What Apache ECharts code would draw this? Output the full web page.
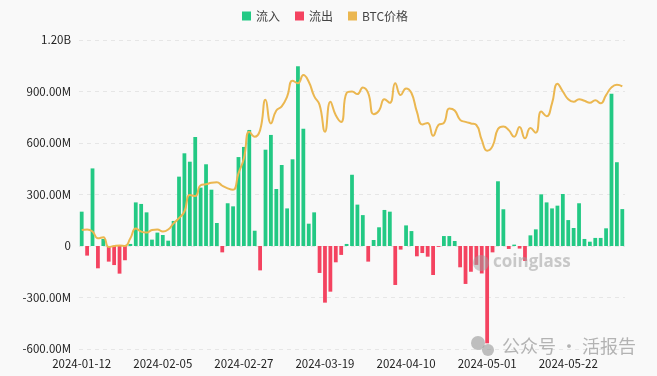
<!DOCTYPE html>
<html>
<head>
<meta charset="utf-8">
<script src="https://cdn.jsdelivr.net/npm/echarts@6/dist/echarts.min.js"></script>
<style>
  html, body { margin: 0; padding: 0; background: #f9f9f9; }
  #chart { width: 657px; height: 376px; }
</style>
</head>
<body>
<div id="chart"></div>
<script>
// 交易日
const dates = [
  "2024-01-12", "2024-01-16", "2024-01-17", "2024-01-18", "2024-01-19", "2024-01-22", "2024-01-23", "2024-01-24",
  "2024-01-25", "2024-01-26", "2024-01-29", "2024-01-30", "2024-01-31", "2024-02-01", "2024-02-02", "2024-02-05",
  "2024-02-06", "2024-02-07", "2024-02-08", "2024-02-09", "2024-02-12", "2024-02-13", "2024-02-14", "2024-02-15",
  "2024-02-16", "2024-02-20", "2024-02-21", "2024-02-22", "2024-02-23", "2024-02-26", "2024-02-27", "2024-02-28",
  "2024-02-29", "2024-03-01", "2024-03-04", "2024-03-05", "2024-03-06", "2024-03-07", "2024-03-08", "2024-03-11",
  "2024-03-12", "2024-03-13", "2024-03-14", "2024-03-15", "2024-03-18", "2024-03-19", "2024-03-20", "2024-03-21",
  "2024-03-22", "2024-03-25", "2024-03-26", "2024-03-27", "2024-03-28", "2024-04-01", "2024-04-02", "2024-04-03",
  "2024-04-04", "2024-04-05", "2024-04-08", "2024-04-09", "2024-04-10", "2024-04-11", "2024-04-12", "2024-04-15",
  "2024-04-16", "2024-04-17", "2024-04-18", "2024-04-19", "2024-04-22", "2024-04-23", "2024-04-24", "2024-04-25",
  "2024-04-26", "2024-04-29", "2024-04-30", "2024-05-01", "2024-05-02", "2024-05-03", "2024-05-06", "2024-05-07",
  "2024-05-08", "2024-05-09", "2024-05-10", "2024-05-13", "2024-05-14", "2024-05-15", "2024-05-16", "2024-05-17",
  "2024-05-20", "2024-05-21", "2024-05-22", "2024-05-23", "2024-05-24", "2024-05-28", "2024-05-29", "2024-05-30",
  "2024-05-31", "2024-06-03", "2024-06-04", "2024-06-05", "2024-06-06"
];

// 每日净流量 (百万美元)
const netFlow = [
  200, -56, 452, -130, 41, -91, -111, -161, -83, 12, 254, 245, 196, 37, 78, 64,
  31, 146, 404, 540, 491, 635, 340, 476, 328, 134, -37, 249, 231, 518, 577, 676,
  89, -142, 561, 647, 332, 472, 219, 505, 1047, 683, 130, 196, -157, -330, -266, -95,
  -52, 12, 415, 241, 180, -91, 35, 109, 210, 200, -227, -21, 120, 87, -60, -41,
  -62, -169, -5, 58, 58, 29, -124, -221, -150, -110, -160, -567, -37, 377, 214, -17,
  8, -15, -87, 62, 97, 301, 254, 219, 235, 303, 151, 105, 249, 41, 25, 47,
  47, 103, 887, 488, 215
];

// BTC 价格 (美元)
const btcPrice = [
  43100, 43200, 42800, 41500, 41700, 39800, 40000, 40100, 40000, 41500, 43400, 42800, 42600, 43100, 43200, 42800,
  43200, 44400, 45400, 46700, 49900, 49700, 51800, 52000, 52300, 52400, 51700, 51200, 50900, 54100, 57000, 62200,
  61200, 62500, 68400, 63800, 66300, 67100, 69000, 72100, 71600, 73200, 71900, 69100, 67400, 62200, 68000, 65400,
  64100, 69700, 70000, 69500, 70800, 69700, 65600, 66300, 68500, 67800, 71600, 69300, 70600, 69700, 66100, 63600,
  63900, 61400, 63500, 63900, 66700, 66300, 64500, 64100, 63800, 63500, 60600, 58500, 59400, 62700, 63200, 62500,
  61200, 63100, 60900, 62900, 62000, 66100, 65200, 67700, 71500, 70000, 68500, 68000, 68500, 68200, 67800, 68300,
  67700, 69300, 70800, 71300, 71000
];

const legendNames = ["流入", "流出", "BTC价格"];
const yTicks = { min: -600, max: 1200, interval: 300 };

const inflow = netFlow.map(v => (v >= 0 ? v : "-"));
const outflow = netFlow.map(v => (v < 0 ? v : "-"));

const fontFamily = "'Liberation Sans Narrow', 'Noto Sans CJK SC', sans-serif";

const chart = echarts.init(document.getElementById("chart"));
chart.setOption({
  backgroundColor: "#f9f9f9",
  animation: false,
  color: ["#23c984", "#f44360", "#ebb750"],
  legend: {
    data: legendNames,
    top: 5,
    left: 237,
    itemWidth: 9,
    itemHeight: 9,
    itemGap: 15,
    icon: "rect",
    textStyle: {
      color: "#444",
      fontSize: 12,
      fontFamily: "'Noto Sans CJK SC', sans-serif"
    }
  },
  grid: {
    left: 79,
    right: 32,
    top: 40,
    bottom: 27
  },
  xAxis: {
    type: "category",
    data: dates,
    axisLine: { show: false },
    axisTick: { show: false },
    axisLabel: {
      interval: 14,
      color: "#222",
      fontSize: 11.5,
      margin: 9,
      fontFamily: fontFamily
    }
  },
  yAxis: [
    {
      type: "value",
      min: yTicks.min,
      max: yTicks.max,
      interval: yTicks.interval,
      axisLine: { show: false },
      axisTick: { show: false },
      axisLabel: {
        color: "#222",
        fontSize: 11.5,
        margin: 8,
        fontFamily: fontFamily,
        formatter: v => {
          if (v === 0) return "0";
          if (Math.abs(v) >= 1000) return (v / 1000).toFixed(2) + "B";
          return v.toFixed(2) + "M";
        }
      },
      splitLine: {
        lineStyle: { color: "#e6e6e6", type: [4, 4] }
      }
    },
    {
      type: "value",
      min: 20000,
      max: 80000,
      show: false,
      splitLine: { show: false }
    }
  ],
  series: [
    {
      name: "流入",
      type: "bar",
      stack: "flow",
      barWidth: "70%",
      data: inflow
    },
    {
      name: "流出",
      type: "bar",
      stack: "flow",
      barWidth: "70%",
      data: outflow
    },
    {
      name: "BTC价格",
      type: "line",
      yAxisIndex: 1,
      smooth: true,
      showSymbol: false,
      lineStyle: { width: 2 },
      data: btcPrice
    }
  ],
  graphic: [
    {
      type: "text",
      left: 493,
      top: 254,
      z: 100,
      style: {
        text: "coinglass",
        fill: "rgba(160,160,160,0.55)",
        font: "bold 17px 'Open Sans', sans-serif"
      }
    },
    {
      type: "circle",
      shape: { cx: 481, cy: 263, r: 8 },
      z: 100,
      style: { fill: "rgba(160,160,160,0.5)" }
    },
    {
      type: "circle",
      shape: { cx: 478, cy: 343, r: 7 },
      z: 100,
      style: { fill: "rgba(150,150,150,0.6)" }
    },
    {
      type: "circle",
      shape: { cx: 488, cy: 350, r: 6 },
      z: 100,
      style: { fill: "rgba(150,150,150,0.6)" }
    },
    {
      type: "text",
      left: 502,
      top: 337,
      z: 100,
      style: {
        text: "公众号 · 活报告",
        fill: "rgba(150,150,150,0.7)",
        font: "18px 'Noto Sans CJK SC', sans-serif"
      }
    }
  ]
});
</script>
</body>
</html>
